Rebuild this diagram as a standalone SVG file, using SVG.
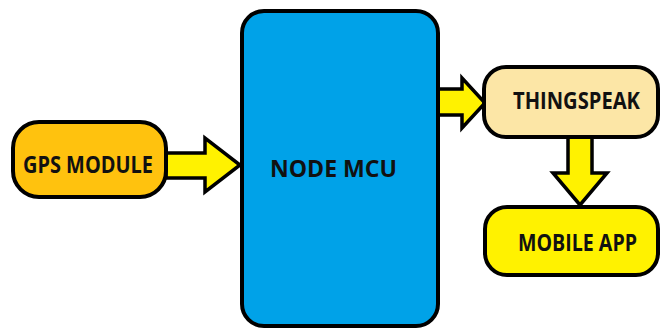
<svg xmlns="http://www.w3.org/2000/svg" width="660" height="329" viewBox="0 0 660 329">
<style>
.box{stroke:#000;stroke-width:4}
.arr{fill:#FFF200;stroke:#000;stroke-width:3.5;stroke-linejoin:miter}
.t{font-family:"Open Sans","Liberation Sans",Arial,sans-serif;font-weight:bold;font-size:23px;fill:#111}
</style>
<rect width="660" height="329" fill="#fff"/>
<g id="connectors">
<polygon class="arr" points="166,153 205,153 205,138 240,165 205,192 205,178 166,178"/>
<polygon class="arr" points="438,89 462,89 462,78 485,103 462,128 462,115 438,115"/>
<polygon class="arr" points="568,137 592,137 592,173 607,173 580,205 553,173 568,173"/>
</g>
<g id="gps">
<rect class="box" x="13" y="122" width="153" height="75" rx="26" fill="#FFC20E"/>
<text class="t" x="23" y="173" textLength="130" lengthAdjust="spacingAndGlyphs">GPS MODULE</text>
</g>
<g id="nodemcu">
<rect class="box" x="242" y="11" width="196" height="315" rx="22" fill="#00A2E8"/>
<text class="t" x="270" y="177" textLength="127" lengthAdjust="spacingAndGlyphs">NODE MCU</text>
</g>
<g id="thingspeak">
<rect class="box" x="484" y="67" width="174" height="70" rx="22" fill="#FCE6A6"/>
<text class="t" x="513" y="109" textLength="127" lengthAdjust="spacingAndGlyphs">THINGSPEAK</text>
</g>
<g id="mobileapp">
<rect class="box" x="485" y="207" width="173" height="68" rx="22" fill="#FFF200"/>
<text class="t" x="518" y="251" textLength="119" lengthAdjust="spacingAndGlyphs">MOBILE APP</text>
</g>
</svg>
